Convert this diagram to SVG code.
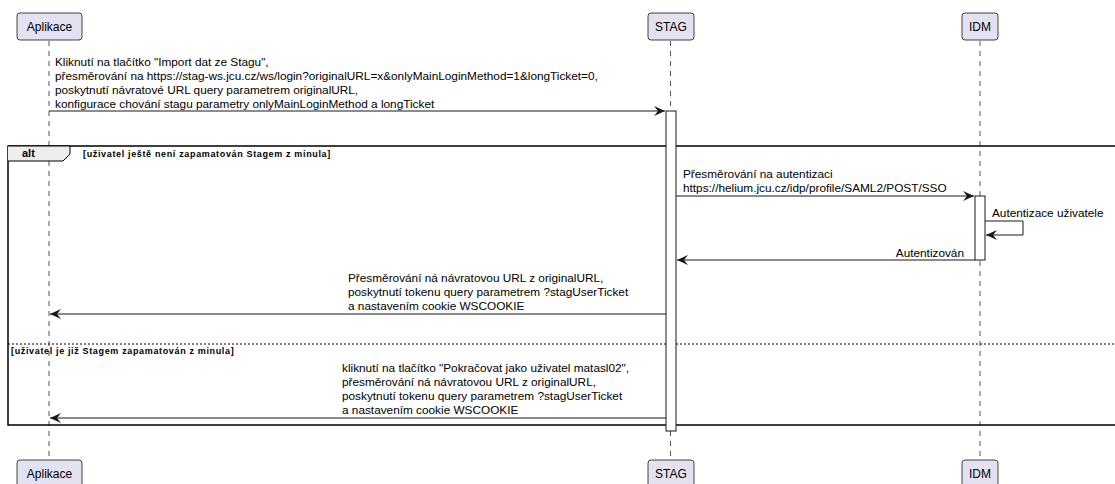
<svg xmlns="http://www.w3.org/2000/svg" width="1115" height="484" viewBox="0 0 1115 484">
<style>
text{font-family:"Liberation Sans",Arial,sans-serif;fill:#000}
.m{font-size:11.8px}
.p{font-size:12px}
.c{font-size:9px;font-weight:bold;letter-spacing:0.65px}
.pbox{fill:#E2E2F0;stroke:#181818;stroke-width:0.8}
.life{stroke:#555;stroke-width:1;stroke-dasharray:5,5}
.act{fill:#fff;stroke:#181818;stroke-width:1}
.msg{stroke:#181818;stroke-width:1;fill:none}
</style>
<defs>
<marker id="ah" markerWidth="12" markerHeight="10" refX="11" refY="5" orient="auto" markerUnits="userSpaceOnUse">
<path d="M0,0 L11,5 L0,10 L4,5 Z" fill="#181818"/>
</marker>
</defs>
<g id="lifelines">
<line class="life" x1="49" y1="41" x2="49" y2="460"/>
<line class="life" x1="670.5" y1="41" x2="670.5" y2="460"/>
<line class="life" x1="980" y1="41" x2="980" y2="460"/>
</g>
<g id="alt-frame">
<rect x="8" y="146" width="1110" height="279" fill="none" stroke="#000" stroke-width="1.5"/>
<path d="M8,146 L70,146 L70,154 L63,161 L8,161" fill="#EEEEEE" stroke="#000" stroke-width="1"/>
<text x="22" y="157" style="font-size:11px;font-weight:bold">alt</text>
<text class="c" x="83" y="157">[uživatel ještě není zapamatován Stagem z minula]</text>
<line x1="8" y1="344" x2="1118" y2="344" stroke="#000" stroke-width="1" stroke-dasharray="2,2"/>
<text class="c" x="11" y="354">[uživatel je již Stagem zapamatován z minula]</text>
</g>
<g id="activations">
<rect class="act" x="666" y="111" width="10" height="320"/>
<rect class="act" x="975" y="196" width="10" height="64"/>
</g>
<g id="Aplikace">
<rect class="pbox" x="17" y="13" width="65" height="27" rx="3"/>
<text class="p" x="49.5" y="31" text-anchor="middle">Aplikace</text>
<rect class="pbox" x="17" y="460" width="65" height="27" rx="3"/>
<text class="p" x="49.5" y="478" text-anchor="middle">Aplikace</text>
</g>
<g id="STAG">
<rect class="pbox" x="648" y="13" width="46" height="27" rx="3"/>
<text class="p" x="671" y="31" text-anchor="middle">STAG</text>
<rect class="pbox" x="648" y="460" width="46" height="27" rx="3"/>
<text class="p" x="671" y="478" text-anchor="middle">STAG</text>
</g>
<g id="IDM">
<rect class="pbox" x="962" y="13" width="36" height="27" rx="3"/>
<text class="p" x="980" y="31" text-anchor="middle">IDM</text>
<rect class="pbox" x="962" y="460" width="36" height="27" rx="3"/>
<text class="p" x="980" y="478" text-anchor="middle">IDM</text>
</g>
<g id="connectors">
<line class="msg" x1="49" y1="111" x2="665" y2="111" marker-end="url(#ah)"/>
<line class="msg" x1="676" y1="196" x2="974" y2="196" marker-end="url(#ah)"/>
<path class="msg" d="M985,221 L1023,221 L1023,235 L986,235" marker-end="url(#ah)"/>
<line class="msg" x1="975" y1="260" x2="677" y2="260" marker-end="url(#ah)"/>
<line class="msg" x1="666" y1="314" x2="50" y2="314" marker-end="url(#ah)"/>
<line class="msg" x1="666" y1="418" x2="50" y2="418" marker-end="url(#ah)"/>
</g>
<g id="labels">
<text class="m" x="55" y="66">Kliknutí na tlačítko "Import dat ze Stagu",</text>
<text class="m" x="55" y="80">přesměrování na https://stag-ws.jcu.cz/ws/login?originalURL=x&amp;onlyMainLoginMethod=1&amp;longTicket=0,</text>
<text class="m" x="55" y="94">poskytnutí návratové URL query parametrem originalURL,</text>
<text class="m" x="55" y="108">konfigurace chování stagu parametry onlyMainLoginMethod a longTicket</text>
<text class="m" x="683" y="178">Přesměrování na autentizaci</text>
<text class="m" x="683" y="192">https://helium.jcu.cz/idp/profile/SAML2/POST/SSO</text>
<text class="m" x="992" y="217">Autentizace uživatele</text>
<text class="m" x="964" y="257" text-anchor="end">Autentizován</text>
<text class="m" x="348" y="282">Přesměrování ná návratovou URL z originalURL,</text>
<text class="m" x="348" y="296">poskytnutí tokenu query parametrem ?stagUserTicket</text>
<text class="m" x="348" y="310">a nastavením cookie WSCOOKIE</text>
<text class="m" x="342" y="372">kliknutí na tlačítko "Pokračovat jako uživatel matasl02",</text>
<text class="m" x="342" y="386">přesměrování ná návratovou URL z originalURL,</text>
<text class="m" x="342" y="400">poskytnutí tokenu query parametrem ?stagUserTicket</text>
<text class="m" x="342" y="414">a nastavením cookie WSCOOKIE</text>
</g>
</svg>
